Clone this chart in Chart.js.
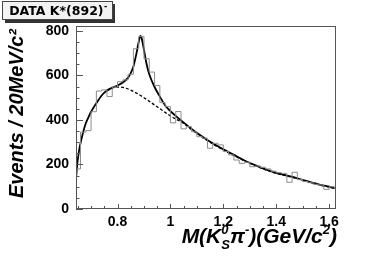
<!DOCTYPE html>
<html>
<head>
<meta charset="utf-8">
<script src="https://cdn.jsdelivr.net/npm/chart.js@4"></script>
<style>
html, body { margin: 0; padding: 0; background: #fff; }
</style>
</head>
<body>
<canvas id="mass_plot" width="374" height="262"></canvas>
<script>
// histogram: 20 MeV bins starting at 0.64 GeV
const bin_start = 0.64;
const bin_width = 0.02;
const counts = [
    180, 345, 352, 437, 530, 535, 505, 548, 572, 580,
    605, 720, 775, 675, 615, 555, 478, 460, 387, 438,
    360, 370, 347, 325, 318, 273, 295, 288, 258, 243,
    220, 205, 210, 190, 193, 187, 180, 170, 163, 160,
    120, 165, 132, 123, 118, 111, 108, 88, 100, 92
];

// total fit (solid)
const fit_mass = [0.64, 0.644, 0.648, 0.655, 0.66, 0.67, 0.68, 0.69, 0.70, 0.72,
    0.74, 0.76, 0.78, 0.80, 0.82, 0.84, 0.85, 0.86, 0.87, 0.88,
    0.886, 0.89, 0.90, 0.91, 0.92, 0.94, 0.96, 0.98, 1.00, 1.04,
    1.08, 1.12, 1.16, 1.20, 1.24, 1.28, 1.32, 1.36, 1.40, 1.44,
    1.48, 1.52, 1.56, 1.60, 1.64];
const fit_value = [100, 150, 205, 265, 295, 345, 385, 412, 437, 475,
    510, 532, 545, 555, 568, 590, 610, 640, 690, 750,
    777, 772, 715, 650, 605, 548, 505, 465, 440, 398,
    360, 326, 295, 268, 243, 218, 197, 178, 162, 150,
    138, 124, 111, 100, 89];

// background (dashed)
const bkg_mass = [0.76, 0.78, 0.80, 0.82, 0.84, 0.86, 0.88, 0.90, 0.92, 0.94,
    0.96, 0.98, 1.00, 1.02, 1.04, 1.08, 1.12, 1.16, 1.20, 1.24,
    1.28, 1.32, 1.36, 1.40, 1.44, 1.48, 1.52, 1.56, 1.60, 1.64];
const bkg_value = [530, 543, 548, 546, 539, 528, 515, 500, 484, 467,
    451, 434, 418, 404, 392, 357, 323, 292, 265, 240,
    216, 195, 176, 160, 148, 136, 122, 109, 98, 87];

const x_tick_labels = ['0.8', '1', '1.2', '1.4', '1.6'];
const y_tick_labels = ['0', '200', '400', '600', '800'];

const box_title = 'DATA K*(892)';
const y_title = 'Events / 20MeV/c\u00b2';

let hist_points = counts.map((c, i) => ({x: bin_start + i * bin_width, y: c}));
hist_points.push({x: bin_start + counts.length * bin_width, y: counts[counts.length - 1]});

const fit_points = fit_mass.map((m, i) => ({x: m, y: fit_value[i]}));
const bkg_points = bkg_mass.map((m, i) => ({x: m, y: bkg_value[i]}));

const tick_font = {family: '"Liberation Sans", Arial, sans-serif', weight: 'bold', size: 14};
const title_family = '"Liberation Sans", Arial, sans-serif';

// rich text: parts drawn left to right, sup/sub smaller, stack puts part under the previous one
function rich_width(ctx, parts, size) {
    let w = 0, last = 0;
    parts.forEach(p => {
        let s = (p.sup || p.sub) ? size * 0.62 : size;
        ctx.font = 'italic bold ' + s + 'px ' + title_family;
        let pw = ctx.measureText(p.t).width;
        if (p.stack) {
            w += Math.max(0, pw - last);
            last = Math.max(pw, last);
        } else {
            w += pw;
            last = pw;
        }
    });
    return w;
}

function draw_rich(ctx, parts, size, x0, y0) {
    let x = x0, last_x = x0, last = 0;
    parts.forEach(p => {
        let s = (p.sup || p.sub) ? size * 0.62 : size;
        let dy = p.sup ? -size * 0.42 : (p.sub ? size * 0.28 : 0);
        ctx.font = 'italic bold ' + s + 'px ' + title_family;
        let pw = ctx.measureText(p.t).width;
        if (p.stack) {
            ctx.fillText(p.t, last_x, y0 + dy);
            x = last_x + Math.max(pw, last);
        } else {
            ctx.fillText(p.t, x, y0 + dy);
            last_x = x;
            last = pw;
            x += pw;
        }
    });
}

const x_title_parts = [
    {t: 'M(K'}, {t: '0', sup: true}, {t: 'S', sub: true, stack: true},
    {t: '\u03c0'}, {t: '-', sup: true}, {t: ')(GeV/c'}, {t: '2', sup: true}, {t: ')'}
];

const decorations = {
    id: 'decorations',
    afterDraw(chart) {
        const ctx = chart.ctx;
        const area = chart.chartArea;
        const xs = chart.scales.x;
        const ys = chart.scales.y;
        ctx.save();

        // frame and inward ticks
        ctx.strokeStyle = '#555';
        ctx.lineWidth = 1;
        ctx.strokeRect(area.left + 0.5, area.top + 0.5, area.right - area.left - 1, area.bottom - area.top - 1);
        ctx.beginPath();
        xs.ticks.forEach(t => {
            let px = Math.round(xs.getPixelForValue(t.value)) + 0.5;
            let len = t.label ? 5 : 3;
            ctx.moveTo(px, area.bottom);
            ctx.lineTo(px, area.bottom - len);
        });
        ys.ticks.forEach(t => {
            let py = Math.round(ys.getPixelForValue(t.value)) + 0.5;
            let len = t.label ? 7 : 3.5;
            ctx.moveTo(area.left, py);
            ctx.lineTo(area.left + len, py);
        });
        ctx.stroke();

        // axis titles
        ctx.fillStyle = '#000';
        ctx.textBaseline = 'alphabetic';
        ctx.textAlign = 'left';
        let w = rich_width(ctx, x_title_parts, 21);
        draw_rich(ctx, x_title_parts, 21, area.right + 1 - w, 243);

        ctx.save();
        ctx.translate(23, (area.top + area.bottom) / 2 - 4);
        ctx.rotate(-Math.PI / 2);
        ctx.font = 'italic bold 20px ' + title_family;
        ctx.textAlign = 'center';
        ctx.fillText(y_title, 0, 0);
        ctx.restore();

        // title box with shadow
        ctx.fillStyle = '#333';
        ctx.fillRect(5, 4, 110, 19);
        ctx.fillStyle = '#f2f2f2';
        ctx.fillRect(2, 1, 111, 19);
        ctx.strokeStyle = '#444';
        ctx.strokeRect(2.5, 1.5, 110, 18);
        ctx.fillStyle = '#000';
        ctx.font = 'bold 12.5px "DejaVu Sans"';
        let tw = ctx.measureText(box_title).width;
        ctx.font = 'bold 8px "DejaVu Sans"';
        let sw = ctx.measureText('-').width;
        let tx = 58 - (tw + sw) / 2;
        ctx.font = 'bold 12.5px "DejaVu Sans"';
        ctx.fillText(box_title, tx, 15);
        ctx.font = 'bold 8px "DejaVu Sans"';
        ctx.fillText('-', tx + tw + 0.5, 9);

        ctx.restore();
    }
};

let mass_plot = new Chart(document.getElementById('mass_plot'), {
    type: 'line',
    data: {
        datasets: [{
            label: 'data',
            data: hist_points,
            stepped: 'before',
            borderColor: '#8c8c8c',
            borderWidth: 1,
            pointRadius: 0,
            fill: false
        }, {
            label: 'background',
            data: bkg_points,
            borderColor: '#000',
            borderWidth: 1.3,
            borderDash: [3, 2],
            pointRadius: 0,
            cubicInterpolationMode: 'monotone',
            fill: false
        }, {
            label: 'fit',
            data: fit_points,
            borderColor: '#000',
            borderWidth: 1.8,
            pointRadius: 0,
            cubicInterpolationMode: 'monotone',
            fill: false
        }]
    },
    options: {
        responsive: false,
        animation: false,
        layout: {padding: {left: 0, right: 38, top: 26, bottom: 0}},
        plugins: {
            legend: {display: false},
            tooltip: {enabled: false}
        },
        scales: {
            x: {
                type: 'linear',
                min: 0.643,
                max: 1.626,
                grid: {display: false, drawTicks: false},
                border: {display: false},
                afterFit: (s) => { s.height = 53; },
                ticks: {
                    stepSize: 0.05,
                    includeBounds: false,
                    autoSkip: false,
                    maxRotation: 0,
                    padding: 5,
                    color: '#000',
                    font: tick_font,
                    callback: (v) => {
                        let s = String(+v.toFixed(2));
                        return x_tick_labels.includes(s) ? s : '';
                    }
                }
            },
            y: {
                min: 0,
                max: 822,
                grid: {display: false, drawTicks: false},
                border: {display: false},
                afterFit: (s) => { s.width = 76; },
                ticks: {
                    stepSize: 50,
                    includeBounds: false,
                    autoSkip: false,
                    padding: 7,
                    color: '#000',
                    font: tick_font,
                    callback: (v) => {
                        let s = String(v);
                        return y_tick_labels.includes(s) ? s : '';
                    }
                }
            }
        }
    },
    plugins: [decorations]
});
</script>
</body>
</html>
